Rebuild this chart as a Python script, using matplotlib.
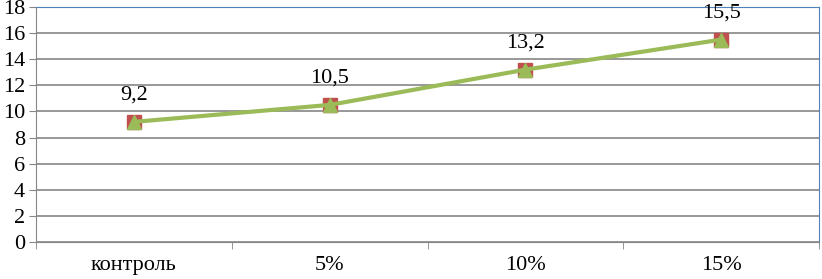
import matplotlib.pyplot as plt
import numpy as np

plt.rcParams['font.family'] = ['Liberation Serif', 'DejaVu Serif']

categories = ['контроль', '5%', '10%', '15%']
values = [9.2, 10.5, 13.2, 15.5]
labels = ['9,2', '10,5', '13,2', '15,5']
yticks = [0, 2, 4, 6, 8, 10, 12, 14, 16, 18]

fig = plt.figure(figsize=(8.22, 2.79), dpi=100)
ax = fig.add_axes([36/822, 37/279, 783/822, 235/279])

x = np.arange(len(categories))
ax.plot(x, values, color='#C0504D', ls='none', marker='s', ms=10.5,
        mec='#C0504D', zorder=3)
ax.plot(x, values, color='#9BBB59', lw=3, marker='^', ms=10.5,
        mec='#9BBB59', zorder=4)

for xi, v, s in zip(x, values, labels):
    ax.annotate(s, (xi, v), xytext=(0, 19.5), textcoords='offset points',
                ha='center', va='center', fontsize=16, annotation_clip=False)

ax.set_xlim(-0.5, 3.5)
ax.set_ylim(0, 18)
ax.set_yticks(yticks)
ax.set_yticklabels([str(t) for t in yticks], fontsize=16)
ax.grid(axis='y', color='#868686', lw=1.2)
ax.set_axisbelow(True)

ax.set_xticks(x)
ax.set_xticklabels(categories, fontsize=16)
ax.tick_params(axis='x', length=0, pad=10)
ax.set_xticks(np.arange(-0.5, 4, 1), minor=True)
ax.tick_params(axis='x', which='minor', length=5, color='#868686')
ax.tick_params(axis='y', length=5, color='#868686', pad=3)

ax.spines['left'].set_color('#868686')
ax.spines['bottom'].set_color('#868686')
ax.spines['top'].set_color('#4F81BD')
ax.spines['right'].set_color('#4F81BD')

fig.savefig('out.png', dpi=100)
